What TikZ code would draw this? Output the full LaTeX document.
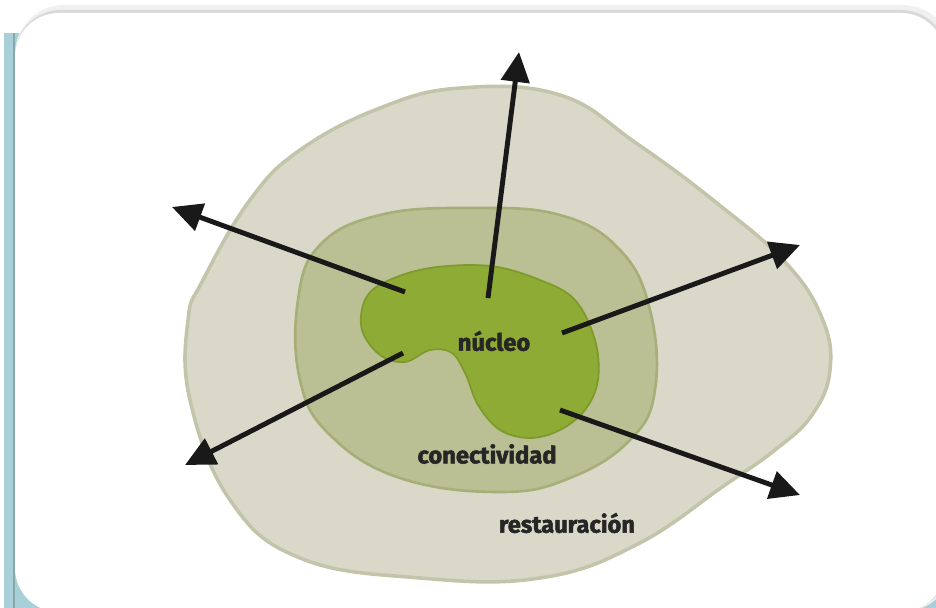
\documentclass[tikz,border=0pt]{standalone}
\usepackage{fontspec}
\setmainfont{Fira Sans}
\newfontfamily\nero{Fira Sans}[BoldFeatures={FakeBold=2}]
\usetikzlibrary{arrows.meta}

\definecolor{bordo}{HTML}{A9D0D8}
\definecolor{restfill}{HTML}{D9D8C9}
\definecolor{restline}{HTML}{C3C4AA}
\definecolor{confill}{HTML}{BAC093}
\definecolor{conline}{HTML}{A7AF78}
\definecolor{nucfill}{HTML}{8EAB35}
\definecolor{nucline}{HTML}{7D9A2B}

\begin{document}
\begin{tikzpicture}[x=0.02cm, y=-0.02cm,
    freccia/.style={-{Triangle[length=17pt, width=16pt]}, line width=2.8pt, black!90},
    etichetta/.style={font=\nero\bfseries\fontsize{13.5}{13.5}\selectfont, text=black!85}]
    \useasboundingbox (0,0) rectangle (936,608);
    \clip (0,0) rectangle (936,608);

    % cornice
    \fill[bordo] (4,33) rectangle (960,640);
    \fill[bordo!80!black] (13,33) rectangle (15,640);
    \fill[gray!12, rounded corners=28] (15,5) rectangle (952,612);
    \fill[gray!30, rounded corners=26] (15,10) rectangle (947,612);
    \fill[white, rounded corners=25] (15,13) rectangle (945,612);

    % zone
    \draw[fill=restfill, draw=restline, line width=2pt] plot[smooth cycle, tension=0.7] coordinates {
        (190,400) (188,320) (203,280) (250,200) (300,150) (380,108) (460,88) (560,95)
        (636,143) (713,200) (785,262) (822,318) (830,370) (812,415) (775,450)
        (725,485) (636,545) (540,578) (420,578) (300,558) (230,500)};
    \draw[fill=confill, draw=conline, line width=1.5pt] plot[smooth cycle, tension=0.7] coordinates {
        (298,300) (320,245) (380,215) (470,208) (560,215) (620,250) (650,310)
        (655,390) (630,440) (570,478) (500,492) (400,478) (330,435) (300,380)};
    \draw[fill=nucfill, draw=nucline, line width=1pt] plot[smooth cycle, tension=0.6] coordinates {
        (365,300) (385,282) (430,268) (490,266) (540,280) (575,300) (595,340)
        (598,380) (585,410) (560,430) (530,438) (500,430) (478,405) (466,375)
        (452,353) (430,350) (405,362) (380,355) (362,330)};

    \coordinate (su0) at (488,298);    \coordinate (su1) at (519,52);
    \coordinate (so0) at (405,292);    \coordinate (so1) at (172,207);
    \coordinate (de0) at (562,333);    \coordinate (de1) at (800,245);
    \coordinate (gs0) at (403,353);    \coordinate (gs1) at (185,465);
    \coordinate (gd0) at (560,410);    \coordinate (gd1) at (800,495);

    \draw[freccia] (su0) -- (su1);
    \draw[freccia] (so0) -- (so1);
    \draw[freccia] (de0) -- (de1);
    \draw[freccia] (gs0) -- (gs1);
    \draw[freccia] (gd0) -- (gd1);

    \node[etichetta] (nucleo) at (494,341) {núcleo};
    \node[etichetta] (conect) at (487,454) {conectividad};
    \node[etichetta] (restau) at (567,523) {restauración};
\end{tikzpicture}
\end{document}
